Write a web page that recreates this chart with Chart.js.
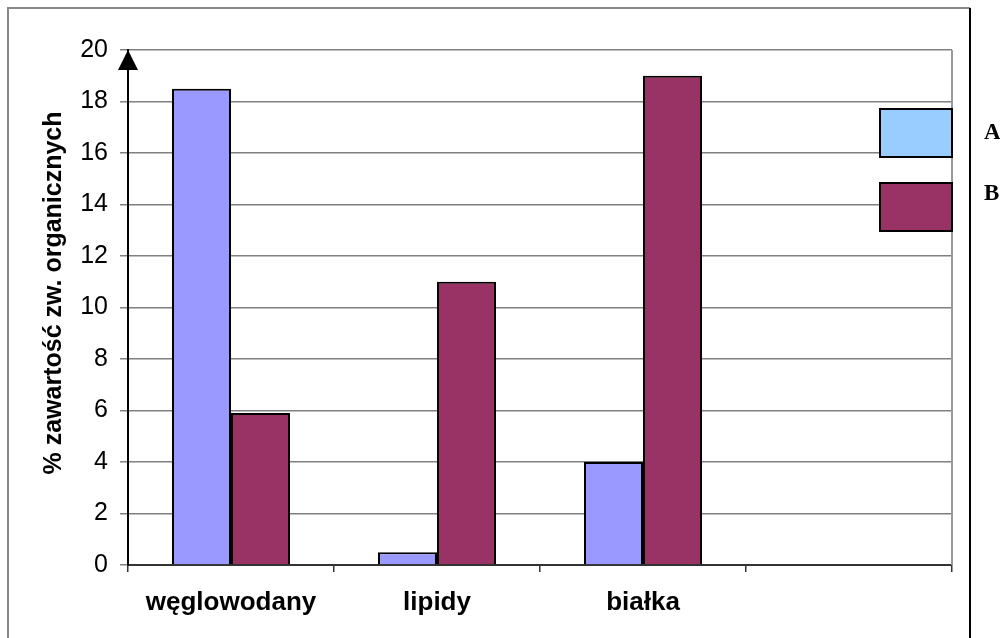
<!DOCTYPE html>
<html>
<head>
<meta charset="utf-8">
<script src="https://cdn.jsdelivr.net/npm/chart.js@4"></script>
<style>
  html, body { margin: 0; padding: 0; background: #fff; }
  #wrap { width: 1000px; height: 638px; }
</style>
</head>
<body>
<div id="wrap"><canvas id="foodChart" width="1000" height="638"></canvas></div>
<script>
const categories = ["węglowodany", "lipidy", "białka", ""];
const seriesNames = ["A", "B"];
const seriesA = [18.5, 0.5, 4, null];
const seriesB = [5.9, 11, 19, null];
const barColors = ["#9999FF", "#993366"];
const legendColors = ["#99CCFF", "#993366"];
const yTitle = "% zawartość zw. organicznych";

// frame, arrow, right edge, legend boxes and the axis title
const extras = {
  id: "extras",
  beforeDatasetsDraw(chart) {
    const { ctx, chartArea } = chart;
    ctx.save();
    ctx.strokeStyle = "#999";
    ctx.lineWidth = 2;
    ctx.beginPath();
    ctx.moveTo(chartArea.right, chartArea.top);
    ctx.lineTo(chartArea.right, chartArea.bottom);
    ctx.stroke();
    ctx.restore();
  },
  afterDraw(chart) {
    const { ctx, chartArea, scales } = chart;
    ctx.save();

    // outer frame
    ctx.lineWidth = 2;
    ctx.strokeStyle = "#888";
    ctx.beginPath();
    ctx.moveTo(8, 645);
    ctx.lineTo(8, 8);
    ctx.lineTo(970, 8);
    ctx.stroke();
    ctx.strokeStyle = "#000";
    ctx.beginPath();
    ctx.moveTo(970, 8);
    ctx.lineTo(970, 645);
    ctx.stroke();

    // arrow on top of y axis
    const ax = scales.x.left;
    const ay = scales.y.getPixelForValue(20);
    ctx.fillStyle = "#000";
    ctx.beginPath();
    ctx.moveTo(ax, ay);
    ctx.lineTo(ax - 10, ay + 20);
    ctx.lineTo(ax + 10, ay + 20);
    ctx.closePath();
    ctx.fill();

    // y title
    ctx.font = "bold 25px 'Liberation Sans', Arial, sans-serif";
    ctx.fillStyle = "#000";
    ctx.textAlign = "center";
    ctx.textBaseline = "alphabetic";
    ctx.translate(61, 293);
    ctx.rotate(-Math.PI / 2);
    ctx.fillText(yTitle, 0, 0);
    ctx.setTransform(1, 0, 0, 1, 0, 0);

    // legend
    const boxTops = [109, 183];
    const textBase = [139, 200];
    chart.data.datasets.forEach((ds, i) => {
      ctx.fillStyle = legendColors[i];
      ctx.fillRect(880, boxTops[i], 72, 48);
      ctx.lineWidth = 2;
      ctx.strokeStyle = "#000";
      ctx.strokeRect(880, boxTops[i], 72, 48);
      ctx.fillStyle = "#000";
      ctx.font = "bold 23px 'Liberation Serif', 'Times New Roman', serif";
      ctx.textAlign = "left";
      ctx.fillText(ds.label, 984, textBase[i]);
    });
    ctx.restore();
  }
};

const chart = new Chart(document.getElementById("foodChart").getContext("2d"), {
  type: "bar",
  data: {
    labels: categories,
    datasets: [
      {
        label: seriesNames[0],
        data: seriesA,
        backgroundColor: barColors[0],
        borderColor: "#000",
        borderWidth: 2,
      },
      {
        label: seriesNames[1],
        data: seriesB,
        backgroundColor: barColors[1],
        borderColor: "#000",
        borderWidth: 2,
      },
    ],
  },
  options: {
    responsive: false,
    animation: false,
    events: [],
    categoryPercentage: 0.573,
    barPercentage: 1.0,
    layout: { padding: { top: 50, right: 48, left: 0, bottom: 0 } },
    plugins: {
      legend: { display: false },
      tooltip: { enabled: false },
    },
    scales: {
      x: {
        grid: {
          drawOnChartArea: false,
          tickLength: 7,
          color: "#333",
          lineWidth: 1.5,
        },
        border: { color: "#333", width: 2 },
        ticks: {
          color: "#000",
          padding: 15,
          font: { family: "'Liberation Sans', Arial, sans-serif", size: 26, weight: "bold" },
        },
        afterFit(scale) { scale.height = 73; },
      },
      y: {
        min: 0,
        max: 20,
        ticks: {
          stepSize: 2,
          color: "#000",
          padding: 12,
          font: { family: "'Liberation Sans', Arial, sans-serif", size: 25 },
        },
        grid: { color: "#808080", lineWidth: 1.5, tickLength: 8 },
        border: { color: "#000", width: 2 },
        afterFit(scale) { scale.width = 128; },
      },
    },
  },
  plugins: [extras],
});
</script>
</body>
</html>
